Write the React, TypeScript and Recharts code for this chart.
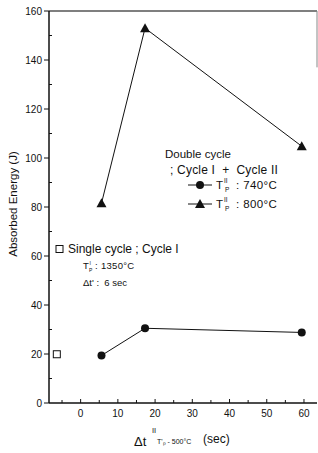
import React from "react";
import {
  ComposedChart,
  Line,
  Scatter,
  XAxis,
  YAxis,
  ReferenceLine,
} from "recharts";

// Δt'' (sec) for the double-cycle runs
const dtDouble = [5.6, 17.3, 59.4];
const energy740 = [19.4, 30.5, 28.8];
const energy800 = [81.5, 153, 104.8];

// single cycle reference point
const dtSingle = [-6.4];
const energySingle = [19.9];

const xTicks = [-5, 0, 5, 10, 15, 20, 25, 30, 35, 40, 45, 50, 55, 60];
const xLabels = [0, 10, 20, 30, 40, 50, 60];
const yTicks = [0, 10, 20, 30, 40, 50, 60, 70, 80, 90, 100, 110, 120, 130, 140, 150, 160];
const yLabels = [0, 20, 40, 60, 80, 100, 120, 140, 160];

const series740 = dtDouble.map((x, i) => ({ x, y: energy740[i] }));
const series800 = dtDouble.map((x, i) => ({ x, y: energy800[i] }));
const seriesSingle = dtSingle.map((x, i) => ({ x, y: energySingle[i] }));

const FONT = "'Liberation Sans', Arial, sans-serif";

const XTick = (props: any) => {
  const { x, y, payload } = props;
  const major = xLabels.includes(payload.value);
  return (
    <g>
      <line x1={x} x2={x} y1={y} y2={y - (major ? 4 : 3)} stroke="#111" strokeWidth={1} />
      {major && (
        <text x={x} y={y + 14} textAnchor="middle" fontSize={10} fill="#111" fontFamily={FONT}>
          {payload.value}
        </text>
      )}
    </g>
  );
};

const YTick = (props: any) => {
  const { x, y, payload } = props;
  const major = yLabels.includes(payload.value);
  return (
    <g>
      {major ? (
        <line x1={x - 5} x2={x} y1={y} y2={y} stroke="#111" strokeWidth={1} />
      ) : (
        <line x1={x} x2={x + 3} y1={y} y2={y} stroke="#111" strokeWidth={1} />
      )}
      {major && (
        <text x={x - 7} y={y + 3.5} textAnchor="end" fontSize={10} fill="#111" fontFamily={FONT}>
          {payload.value}
        </text>
      )}
    </g>
  );
};

const Triangle = (props: any) => {
  const { cx, cy } = props;
  if (cx == null || cy == null) return null;
  return <polygon points={`${cx},${cy - 5} ${cx - 5},${cy + 4} ${cx + 5},${cy + 4}`} fill="#111" />;
};

const OpenSquare = (props: any) => {
  const { cx, cy } = props;
  return <rect x={cx - 3.5} y={cy - 3.5} width={7} height={7} fill="#fff" stroke="#111" strokeWidth={1} />;
};

const pre = { whiteSpace: "pre" as const };

export default function App() {
  return (
    <div style={{ position: "absolute", left: 0, top: 0, width: 318, height: 453, background: "#fff", fontFamily: FONT }}>
      <ComposedChart
        width={318}
        height={453}
        margin={{ top: 11, right: 1, bottom: 20, left: 0 }}
      >
        <XAxis
          type="number"
          dataKey="x"
          domain={[-8.5, 63.5]}
          ticks={xTicks}
          interval={0}
          allowDataOverflow
          height={30}
          tickSize={0}
          tickMargin={0}
          tick={<XTick />}
          axisLine={{ stroke: "#111", strokeWidth: 1.5 }}
          tickLine={false}
        />
        <YAxis
          type="number"
          dataKey="y"
          domain={[0, 160]}
          ticks={yTicks}
          interval={0}
          width={49}
          tickSize={0}
          tickMargin={0}
          tick={<YTick />}
          axisLine={{ stroke: "#111", strokeWidth: 1.5 }}
          tickLine={false}
        />
        <ReferenceLine y={160} stroke="#555" strokeWidth={1.5} />
        <ReferenceLine
          segment={[{ x: 63.5, y: 137 }, { x: 63.5, y: 160 }]}
          stroke="#888"
          strokeWidth={1}
        />
        <Line
          data={series800}
          dataKey="y"
          stroke="#111"
          strokeWidth={1}
          dot={<Triangle />}
          isAnimationActive={false}
        />
        <Line
          data={series740}
          dataKey="y"
          stroke="#111"
          strokeWidth={1}
          dot={{ r: 4, fill: "#111", stroke: "#111", strokeWidth: 0 }}
          isAnimationActive={false}
        />
        <Scatter data={seriesSingle} dataKey="y" shape={<OpenSquare />} isAnimationActive={false} />
      </ComposedChart>

      <svg
        width={318}
        height={453}
        style={{ position: "absolute", left: 0, top: 0, pointerEvents: "none" }}
        fontFamily={FONT}
        fill="#111"
      >
        {/* y axis title */}
        <text x={17} y={204} fontSize={11.5} textAnchor="middle" transform="rotate(-90 17 204)">
          Absorbed Energy (J)
        </text>

        {/* x axis title */}
        <text x={134} y={446} fontSize={13}>Δt</text>
        <text x={152} y={433} fontSize={7.5}>II</text>
        <text x={157} y={444} fontSize={7}>T'ₚ - 500°C</text>
        <text x={203} y={443} fontSize={12}>(sec)</text>

        {/* double cycle block */}
        <text x={165} y={158} fontSize={11.5}>Double cycle</text>
        <text x={170} y={174} fontSize={12} letterSpacing={0.2} style={pre}>{"; Cycle I  +  Cycle II"}</text>

        <line x1={188} x2={212} y1={185} y2={185} stroke="#111" strokeWidth={1} />
        <circle cx={200} cy={185} r={4} fill="#111" />
        <text x={216} y={189} fontSize={11.5}>T</text>
        <text x={224} y={183} fontSize={6.5}>II</text>
        <text x={225} y={192} fontSize={6.5}>P</text>
        <text x={236} y={189} fontSize={11.5} letterSpacing={0.4} style={pre}>{": 740°C"}</text>

        <line x1={188} x2={212} y1={204} y2={204} stroke="#111" strokeWidth={1} />
        <polygon points="200,199 195,208 205,208" fill="#111" />
        <text x={216} y={208} fontSize={11.5}>T</text>
        <text x={224} y={202} fontSize={6.5}>II</text>
        <text x={225} y={211} fontSize={6.5}>P</text>
        <text x={236} y={208} fontSize={11.5} letterSpacing={0.4} style={pre}>{": 800°C"}</text>

        {/* single cycle block */}
        <rect x={56} y={245.5} width={7} height={7} fill="#fff" stroke="#111" strokeWidth={1} />
        <text x={68} y={253} fontSize={12}>Single cycle ; Cycle I</text>
        <text x={83} y={269} fontSize={9.5}>T</text>
        <text x={89.5} y={265} fontSize={5}>I</text>
        <text x={89} y={272} fontSize={5}>P</text>
        <text x={95} y={269} fontSize={9.5} letterSpacing={0.3} style={pre}>{": 1350°C"}</text>
        <text x={83} y={286} fontSize={9.5} style={pre}>{"Δt' :  6 sec"}</text>
      </svg>
    </div>
  );
}
